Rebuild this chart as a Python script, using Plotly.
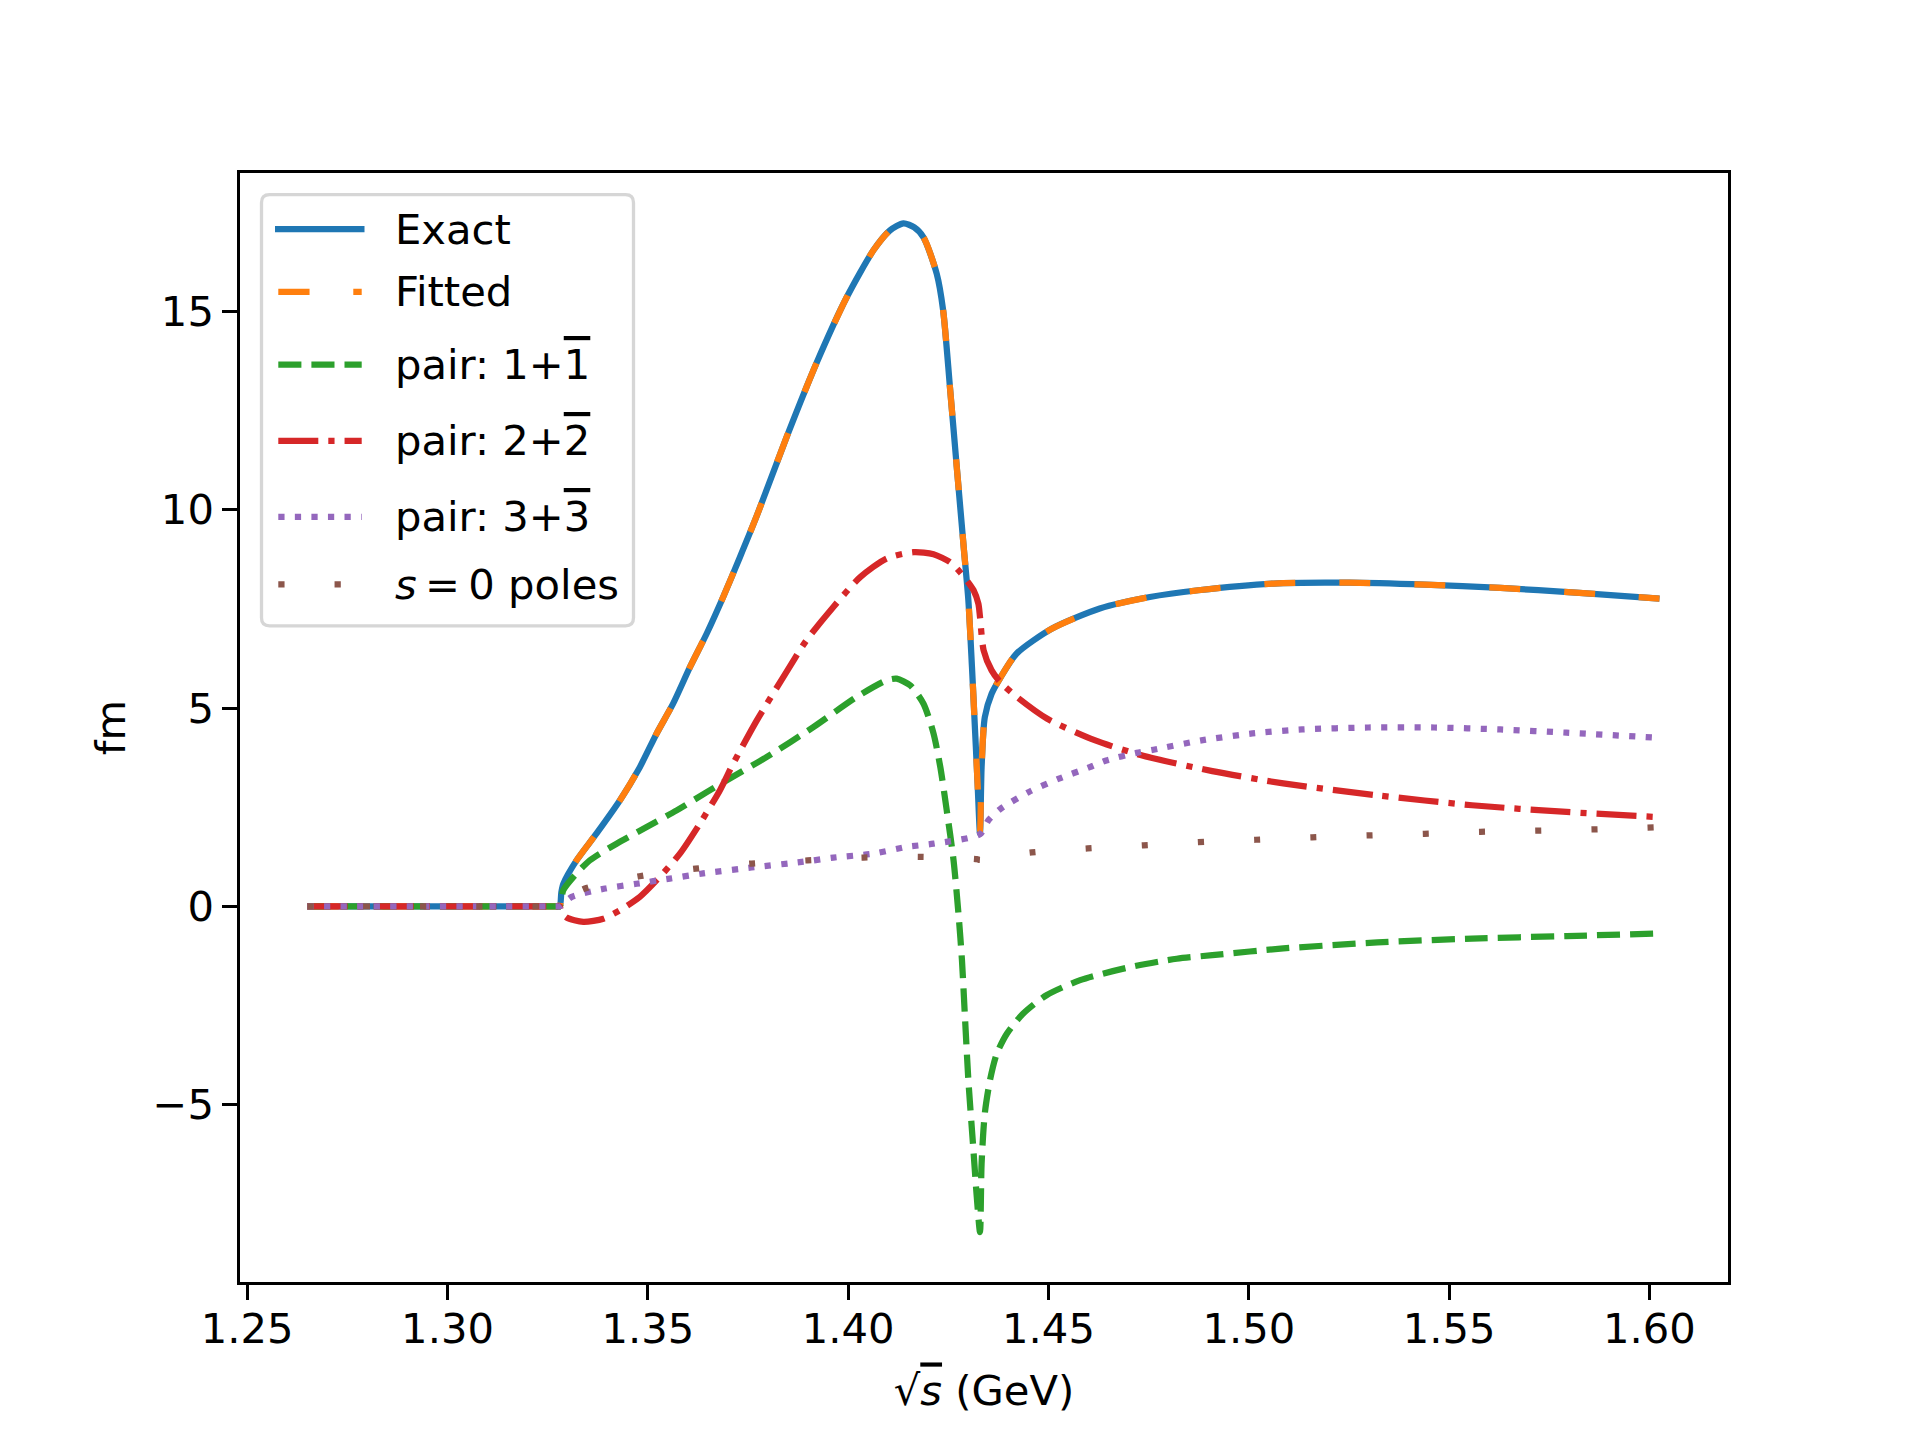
import plotly.graph_objects as go

# ---------------- data ----------------
exact_x = [1.2650, 1.3270, 1.3280, 1.3284, 1.3289, 1.3322, 1.3372, 1.3430, 1.3480, 1.3522, 1.3563,
           1.3605, 1.3647, 1.3688, 1.3730, 1.3772, 1.3847, 1.3921, 1.3996, 1.4063, 1.4104,
           1.4138, 1.4165, 1.4188, 1.4221, 1.4237, 1.4254, 1.4271, 1.4289, 1.4300, 1.4309,
           1.4317, 1.4323, 1.4329, 1.4333, 1.4341, 1.4358, 1.4379, 1.4420, 1.4508, 1.4628,
           1.4753, 1.4874, 1.5062, 1.5251, 1.5439, 1.5628, 1.5816, 1.6025]
exact_y = [0.00, 0.00, 0.00, 0.35, 0.57, 1.16, 1.84, 2.67, 3.51, 4.36, 5.11,
           6.03, 6.88, 7.80, 8.81, 9.85, 11.85, 13.70, 15.35, 16.54, 17.04,
           17.22, 17.12, 16.87, 15.95, 15.03, 13.09, 11.08, 8.98, 7.72, 6.03,
           4.36, 3.10, 1.84, 3.51, 4.77, 5.36, 5.75, 6.37, 7.00, 7.51,
           7.80, 7.97, 8.14, 8.16, 8.11, 8.03, 7.91, 7.76]

# fitted curve is visually identical to the exact one
fitted_x = exact_x
fitted_y = exact_y

pair1_x = [1.2650, 1.3270, 1.3280, 1.3289, 1.3314, 1.3355, 1.3422, 1.3497, 1.3572, 1.3647, 1.3697,
           1.3797, 1.3913, 1.4021, 1.4096, 1.4121, 1.4155, 1.4188, 1.4213, 1.4230, 1.4246,
           1.4263, 1.4276, 1.4284, 1.4291, 1.4300, 1.4312, 1.4321, 1.4329, 1.4333, 1.4341,
           1.4354, 1.4371, 1.4396, 1.4437, 1.4495, 1.4579, 1.4704, 1.4820, 1.4909, 1.5086,
           1.5321, 1.5557, 1.5793, 1.6025]
pair1_y = [0.00, 0.00, 0.00, 0.41, 0.74, 1.16, 1.58, 2.00, 2.42, 2.88, 3.18,
           3.77, 4.52, 5.28, 5.70, 5.74, 5.57, 5.11, 4.36, 3.51, 2.42,
           1.16, -0.27, -1.36, -2.70, -4.38, -6.06, -7.33, -8.21, -6.48, -5.22,
           -4.38, -3.71, -3.21, -2.70, -2.24, -1.86, -1.53, -1.32, -1.23, -1.06,
           -0.91, -0.81, -0.75, -0.68]

pair2_x = [1.2650, 1.3270, 1.3280, 1.3284, 1.3297, 1.3339, 1.3389, 1.3430, 1.3480, 1.3522, 1.3580,
           1.3630, 1.3680, 1.3713, 1.3772, 1.3838, 1.3896, 1.3963, 1.4030, 1.4096, 1.4163,
           1.4213, 1.4254, 1.4279, 1.4296, 1.4313, 1.4325, 1.4329, 1.4338, 1.4358, 1.4379,
           1.4421, 1.4497, 1.4615, 1.4732, 1.4909, 1.5086, 1.5321, 1.5557, 1.5793, 1.6025]
pair2_y = [0.00, 0.00, 0.00, -0.15, -0.28, -0.39, -0.31, -0.10, 0.24, 0.66, 1.33,
           2.09, 2.93, 3.60, 4.69, 5.78, 6.71, 7.55, 8.30, 8.77, 8.93,
           8.88, 8.68, 8.43, 8.22, 7.97, 7.63, 7.30, 6.46, 5.95, 5.66,
           5.28, 4.73, 4.19, 3.81, 3.41, 3.10, 2.80, 2.55, 2.38, 2.25]

pair3_x = [1.2650, 1.3270, 1.3280, 1.3310, 1.3393, 1.3472, 1.3555, 1.3638, 1.3759, 1.3884, 1.3963,
           1.4063, 1.4146, 1.4213, 1.4329, 1.4350, 1.4379, 1.4450, 1.4526, 1.4603, 1.4644,
           1.4720, 1.4762, 1.4885, 1.5009, 1.5133, 1.5298, 1.5463, 1.5628, 1.5793, 1.6025]
pair3_y = [0.00, 0.00, 0.00, 0.24, 0.45, 0.57, 0.70, 0.83, 0.98, 1.12, 1.23,
           1.33, 1.50, 1.58, 1.82, 2.17, 2.45, 2.88, 3.22, 3.51, 3.68,
           3.87, 3.95, 4.19, 4.36, 4.46, 4.51, 4.51, 4.46, 4.38, 4.25]

poles_x = [1.2650, 1.3270, 1.3280, 1.3300, 1.3343, 1.3479, 1.3619, 1.3759, 1.3899, 1.4038, 1.4179,
           1.4321, 1.4329, 1.4458, 1.4598, 1.4737, 1.4874, 1.5017, 1.5158, 1.5298, 1.5438,
           1.5578, 1.5718, 1.5859, 1.6025]
poles_y = [0.00, 0.00, 0.00, 0.22, 0.45, 0.76, 0.95, 1.08, 1.16, 1.23, 1.25,
           1.19, 1.17, 1.36, 1.46, 1.54, 1.62, 1.68, 1.74, 1.79, 1.83,
           1.88, 1.91, 1.94, 2.00]

OVL = "<span style='text-decoration:overline'>{}</span>"
names = ["Exact", "Fitted",
         "pair: 1+" + OVL.format("1"),
         "pair: 2+" + OVL.format("2"),
         "pair: 3+" + OVL.format("3"),
         "<i>s</i>\u2009=\u20090 poles"]

x_ticks = [1.25, 1.30, 1.35, 1.40, 1.45, 1.50, 1.55, 1.60]
x_ticklabels = ["1.25", "1.30", "1.35", "1.40", "1.45", "1.50", "1.55", "1.60"]
y_ticks = [-5, 0, 5, 10, 15]
y_ticklabels = ["\u22125", "0", "5", "10", "15"]

# ---------------- styling ----------------
colors = ["#1f77b4", "#ff7f0e", "#2ca02c", "#d62728", "#9467bd", "#8c564b"]
dashes = ["solid", "31.25px,43.75px", "23.1px,10px", "40px,10px,6.25px,10px",
          "6.25px,10.3px", "6.25px,50px"]
LW = 6.25
FONT = "DejaVu Sans"
FS = 41.7

OFF = 8  # default page body margin of the html page
W, H = 1920 - OFF, 1440 - OFF
ML, MR, MT, MB = 240 - OFF, 192, 172.8 - OFF, 158.4
PW, PH = W - ML - MR, H - MT - MB


def px2x(px):  # screenshot pixel -> paper coordinate
    return (px - OFF - ML) / PW


def py2y(py):
    return (H - MB - (py - OFF)) / PH


series = [(exact_x, exact_y), (fitted_x, fitted_y), (pair1_x, pair1_y),
          (pair2_x, pair2_y), (pair3_x, pair3_y), (poles_x, poles_y)]

fig = go.Figure()
for (xs, ys), name, c, d in zip(series, names, colors, dashes):
    fig.add_trace(go.Scatter(x=xs, y=ys, mode="lines", name=name,
                             line=dict(color=c, width=LW, dash=d, shape="spline",
                                       smoothing=0.7),
                             showlegend=False, hoverinfo="skip"))

# ---------------- legend (drawn manually to match matplotlib look) ----------------
shapes = []
annotations = []
bx0, by0, bx1, by1 = 261.5, 194.5, 633.5, 625.5
r = 8
rx, ry = r / PW, r / PH
X0, X1 = px2x(bx0), px2x(bx1)
Y0, Y1 = py2y(by1), py2y(by0)   # Y0 bottom, Y1 top (paper)
path = (f"M{X0 + rx},{Y1} L{X1 - rx},{Y1} Q{X1},{Y1} {X1},{Y1 - ry} "
        f"L{X1},{Y0 + ry} Q{X1},{Y0} {X1 - rx},{Y0} L{X0 + rx},{Y0} "
        f"Q{X0},{Y0} {X0},{Y0 + ry} L{X0},{Y1 - ry} Q{X0},{Y1} {X0 + rx},{Y1} Z")
shapes.append(dict(type="path", xref="paper", yref="paper", path=path,
                   line=dict(color="#d6d6d6", width=3.3), fillcolor="white",
                   layer="above"))
rows = [229, 291.7, 364.3, 440.7, 516.7, 584]
for i, (name, c, d, ry_) in enumerate(zip(names, colors, dashes, rows)):
    lx0, lx1 = (275, 364.5) if d == "solid" else (278.3, 361.7)
    shapes.append(dict(type="line", xref="paper", yref="paper",
                       x0=px2x(lx0), x1=px2x(lx1), y0=py2y(ry_), y1=py2y(ry_),
                       line=dict(color=c, width=LW, dash=d), layer="above"))
    annotations.append(dict(xref="paper", yref="paper", x=px2x(394), y=py2y(ry_),
                            xanchor="left", yanchor="middle", text=name,
                            showarrow=False, borderpad=0,
                            font=dict(family=FONT, size=FS, color="black")))

axis_common = dict(showline=True, linecolor="black", linewidth=3.3, mirror=True,
                   ticks="outside", ticklen=14.6, tickwidth=3.3, tickcolor="black",
                   showgrid=False, zeroline=False,
                   tickfont=dict(family=FONT, size=FS, color="black"))

fig.update_layout(
    width=W, height=H,
    margin=dict(l=ML, r=MR, t=MT, b=MB, pad=0, autoexpand=False),
    paper_bgcolor="white", plot_bgcolor="white",
    font=dict(family=FONT, size=FS, color="black"),
    showlegend=False,
    shapes=shapes, annotations=annotations,
    xaxis=dict(range=[1.2482, 1.6196], tickvals=x_ticks, ticktext=x_ticklabels,
               ticklabelstandoff=-7,
               title=dict(text="\u221a<i><span style='text-decoration:overline'>s</span></i> (GeV)",
                          font=dict(family=FONT, size=FS, color="black"), standoff=25),
               automargin=False, **axis_common),
    yaxis=dict(range=[-9.47, 18.49], tickvals=y_ticks, ticktext=y_ticklabels,
               title=dict(text="fm", font=dict(family=FONT, size=FS, color="black"),
                          standoff=14),
               automargin=False, **axis_common),
)

fig.write_html("out.html")
